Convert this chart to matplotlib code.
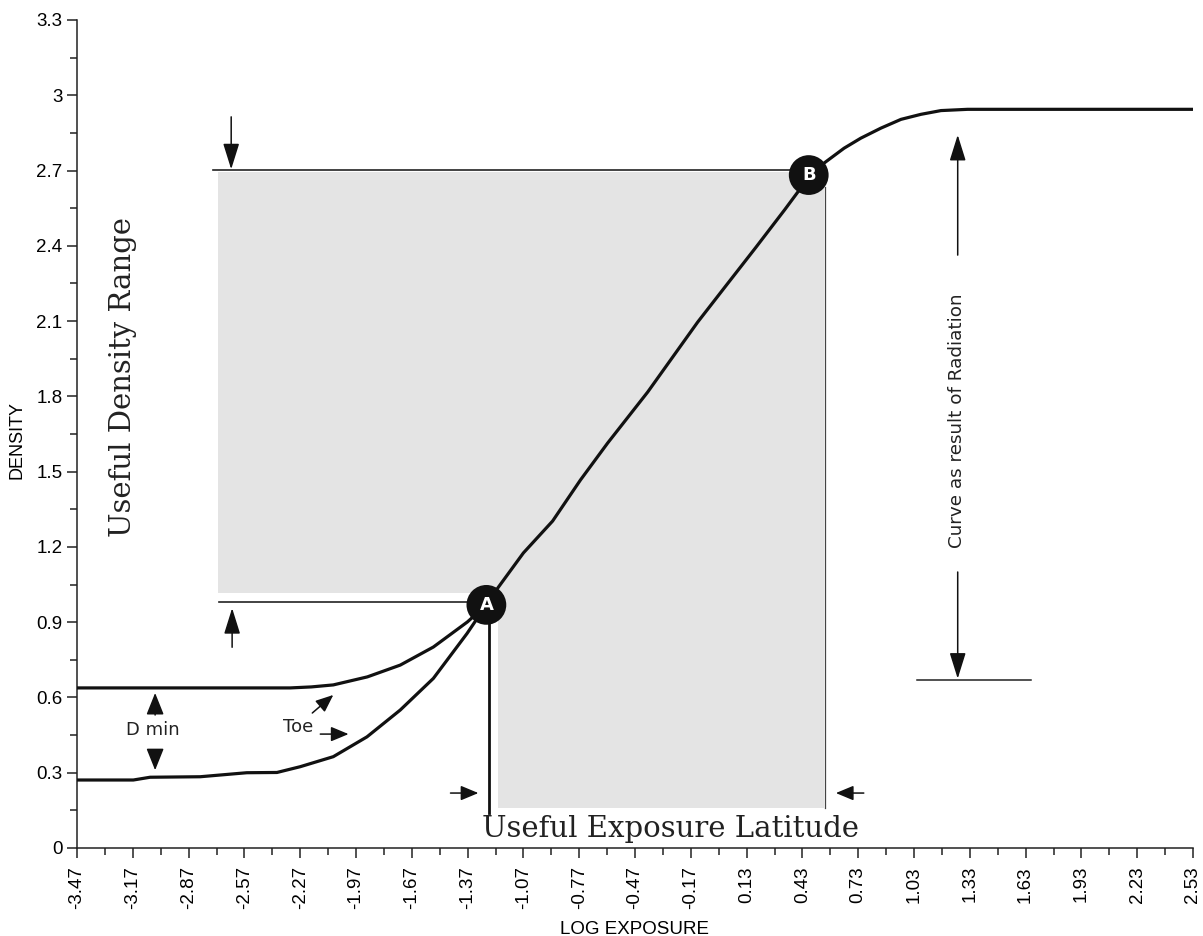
import numpy as np
import matplotlib
matplotlib.use("Agg")
import matplotlib.pyplot as plt

# ---------------- data ----------------
x_tick_labels = ["-3.47", "-3.17", "-2.87", "-2.57", "-2.27", "-1.97", "-1.67", "-1.37",
                 "-1.07", "-0.77", "-0.47", "-0.17", "0.13", "0.43", "0.73", "1.03",
                 "1.33", "1.63", "1.93", "2.23", "2.53"]
y_tick_labels = ["0", "0.3", "0.6", "0.9", "1.2", "1.5", "1.8", "2.1", "2.4", "2.7", "3", "3.3"]

# toe with higher base fog (upper curve)
upper_toe_x = [-3.47, -2.324, -2.21, -2.092, -1.909, -1.732, -1.554, -1.371, -1.269]
upper_toe_y = [0.638, 0.638, 0.642, 0.650, 0.682, 0.729, 0.801, 0.901, 0.969]

# toe with lower base fog (lower curve)
lower_toe_x = [-3.47, -3.167, -3.077, -2.808, -2.557, -2.395, -2.27, -2.092, -1.911,
               -1.732, -1.554, -1.373, -1.269]
lower_toe_y = [0.271, 0.271, 0.282, 0.284, 0.300, 0.301, 0.324, 0.364, 0.443,
               0.550, 0.676, 0.855, 0.969]

# straight-line portion and shoulder
main_x = [-1.269, -1.204, -1.070, -0.913, -0.763, -0.617, -0.402, -0.133, 0.018,
          0.179, 0.335, 0.411, 0.464, 0.556, 0.654, 0.744, 0.852, 0.960,
          1.067, 1.175, 1.318, 2.53]
main_y = [0.969, 1.040, 1.176, 1.303, 1.467, 1.614, 1.817, 2.096, 2.240,
          2.393, 2.544, 2.620, 2.682, 2.735, 2.789, 2.829, 2.869, 2.904,
          2.924, 2.939, 2.944, 2.944]

point_names = ["A", "B"]
point_x = [-1.269, 0.464]
point_y = [0.969, 2.682]

# shaded regions: (x0, x1, y0, y1)
density_range_box = (-2.711, 0.545, 1.016, 2.694)
latitude_box = (-1.209, 0.545, 0.159, 2.694)

# ---------------- figure ----------------
fig = plt.figure(figsize=(12.03, 9.36), dpi=100)
ax = fig.add_axes([77 / 1203, 88 / 936, 1116 / 1203, 828 / 936])
ax.set_xlim(-3.47, 2.53)
ax.set_ylim(0, 3.3)

for sp in ["top", "right"]:
    ax.spines[sp].set_visible(False)
for sp in ["left", "bottom"]:
    ax.spines[sp].set_linewidth(1.1)
    ax.spines[sp].set_color("#222222")

x_ticks = [float(s) for s in x_tick_labels]
y_ticks = [float(s) for s in y_tick_labels]
ax.set_xticks(x_ticks)
ax.set_xticklabels(x_tick_labels, rotation=90, family="Liberation Sans", fontsize=13.5)
ax.set_yticks(y_ticks)
ax.set_yticklabels(y_tick_labels, family="Liberation Sans", fontsize=13.5)
ax.set_xticks([(a + b) / 2 for a, b in zip(x_ticks[:-1], x_ticks[1:])], minor=True)
ax.set_yticks([(a + b) / 2 for a, b in zip(y_ticks[:-1], y_ticks[1:])], minor=True)
ax.tick_params(which="major", direction="out", length=7, width=1.1, color="#222222")
ax.tick_params(which="minor", direction="out", length=5, width=1.1, color="#222222")
ax.tick_params(axis="x", which="major", pad=6)
ax.tick_params(axis="y", which="major", pad=3.5)

ax.set_xlabel("LOG EXPOSURE", family="Liberation Sans", fontsize=13.5)
ax.xaxis.set_label_coords(0.5, -0.088)
ax.set_ylabel("DENSITY", family="Liberation Sans", fontsize=13)
ax.yaxis.set_label_coords(-0.046, 0.4928)

# shaded areas
shade = "#e4e4e4"
for (x0, x1, y0, y1) in [density_range_box, latitude_box]:
    ax.fill_between([x0, x1], [y0, y0], [y1, y1], color=shade, lw=0, zorder=1)

# reference lines
ax.plot([-2.738, 0.44], [2.702, 2.702], color="#222222", lw=1.2, zorder=2)
ax.plot([-2.706, point_x[0]], [0.981, 0.981], color="#222222", lw=1.2, zorder=2)
ax.plot([-1.253, -1.253], [point_y[0], 0.14], color="#111111", lw=2.0, zorder=2)
ax.plot([0.55, 0.55], [2.634, 0.16], color="#444444", lw=0.9, zorder=2)
ax.plot([1.045, 1.659], [0.67, 0.67], color="#222222", lw=1.1, zorder=2)

# curves
for xs, ys in [(upper_toe_x, upper_toe_y), (lower_toe_x, lower_toe_y), (main_x, main_y)]:
    ax.plot(xs, ys, color="#111111", lw=2.3, solid_capstyle="butt",
            solid_joinstyle="round", zorder=3)

# points A, B
ax.scatter(point_x, point_y, s=820, color="#111111", zorder=5, edgecolors="none")
for n, px, py in zip(point_names, point_x, point_y):
    ax.text(px, py, n, color="white", ha="center", va="center", fontsize=13,
            fontweight="bold", family="DejaVu Sans", zorder=6)

# arrows
def arrow(x0, y0, x1, y1, hl=0.8, hw=0.25, ms=20, lw=1.1):
    ax.annotate("", xy=(x1, y1), xytext=(x0, y0),
                arrowprops=dict(arrowstyle=f"-|>,head_length={hl},head_width={hw}",
                                mutation_scale=ms, lw=lw, color="#111111",
                                shrinkA=0, shrinkB=0), zorder=4)

arrow(-2.641, 2.914, -2.641, 2.705)
arrow(-2.636, 0.80, -2.636, 0.956)
arrow(1.265, 2.363, 1.265, 2.842)
arrow(1.265, 1.10, 1.265, 0.675)
arrow(-3.05, 0.53, -3.05, 0.618, hl=0.75, hw=0.3, ms=18)
arrow(-3.05, 0.39, -3.05, 0.31, hl=0.75, hw=0.3, ms=18)
arrow(-2.205, 0.538, -2.092, 0.61, hl=0.6, hw=0.25, ms=18)
arrow(-2.162, 0.454, -2.01, 0.454, hl=0.6, hw=0.25, ms=18)
arrow(-1.462, 0.219, -1.312, 0.219, hl=0.6, hw=0.25, ms=18)
arrow(0.76, 0.219, 0.61, 0.219, hl=0.6, hw=0.25, ms=18)

# texts
ax.text(-3.06, 0.47, "D min", ha="center", va="center", fontsize=13,
        family="DejaVu Sans", color="#222222")
ax.text(-2.283, 0.483, "Toe", ha="center", va="center", fontsize=13,
        family="DejaVu Sans", color="#222222")
ax.text(-0.281, 0.044, "Useful Exposure Latitude", ha="center", va="baseline",
        fontsize=21, family="DejaVu Serif", color="#222222")
ax.text(-3.179, 1.877, "Useful Density Range", ha="center", va="baseline",
        rotation=90, rotation_mode="anchor", fontsize=21, family="DejaVu Serif",
        color="#222222")
ax.text(1.288, 1.702, "Curve as result of Radiation", ha="center", va="baseline",
        rotation=90, rotation_mode="anchor", fontsize=13.2, family="DejaVu Sans",
        color="#222222")

fig.savefig("out.png", dpi=100)
